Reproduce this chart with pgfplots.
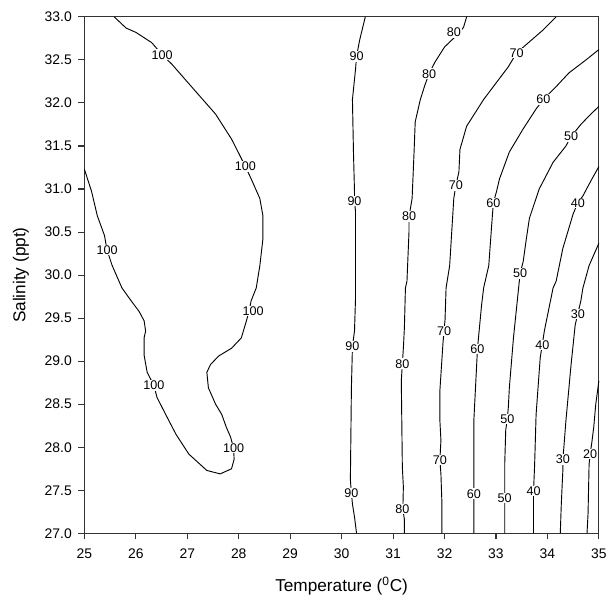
\documentclass[border=0pt]{standalone}
\usepackage{pgfplots}
\pgfplotsset{compat=1.18}
\usepackage{fontspec}
\setmainfont{Liberation Sans}

\tikzset{lab/.style={fill=white, inner sep=0.6pt, font=\fontsize{9.5}{11}\selectfont}}

\begin{document}
\begin{tikzpicture}
\begin{axis}[
    name=ax,
    scale only axis,
    width=388.5pt, height=390pt,
    xmin=25, xmax=35, ymin=27, ymax=33,
    xtick={25,26,...,35},
    ytick={27,27.5,...,33},
    tick pos=left,
    tick align=outside,
    major tick length=4.5pt,
    axis line style={black!80, line width=0.9pt},
    tick style={black!80, line width=0.8pt},
    /pgf/number format/assume math mode=true,
    x tick label style={font=\fontsize{10.5}{12}\selectfont, yshift=-4pt,
        /pgf/number format/fixed, /pgf/number format/precision=0},
    y tick label style={font=\fontsize{10.5}{12}\selectfont, xshift=-1.5pt,
        /pgf/number format/fixed, /pgf/number format/fixed zerofill, /pgf/number format/precision=1},
    xlabel={Temperature (\textsuperscript{0}C)},
    ylabel={Salinity (ppt)},
    every axis x label/.style={at={(axis description cs:0.5,-0.102)}, anchor=center, font=\fontsize{13}{15}\selectfont},
    every axis y label/.style={at={(axis description cs:-0.1236,0.5)}, anchor=center, rotate=90, font=\fontsize{13}{15}\selectfont},
    clip=false,
]
% contour 100
\addplot[black, line width=0.7pt] coordinates {
 (25.58,33.0) (25.81,32.87) (26.0,32.82) (26.31,32.70) (26.51,32.56) (26.70,32.45)
 (27.08,32.19) (27.55,31.87) (27.86,31.58) (28.03,31.38) (28.13,31.26) (28.24,31.12)
 (28.41,30.89) (28.47,30.69) (28.47,30.42) (28.41,30.11) (28.34,29.85) (28.24,29.70)
 (28.20,29.58) (28.15,29.47) (28.05,29.27) (27.86,29.15) (27.61,29.06) (27.45,28.96)
 (27.38,28.87) (27.41,28.69) (27.55,28.50) (27.67,28.38) (27.76,28.23) (27.84,28.12)
 (27.90,27.99) (27.91,27.86) (27.86,27.75) (27.64,27.69) (27.38,27.73) (27.03,27.92)
 (26.78,28.15) (26.58,28.38) (26.41,28.58) (26.35,28.72) (26.22,28.87) (26.16,29.07)
 (26.16,29.27) (26.19,29.35) (26.16,29.47) (26.06,29.58) (25.91,29.70) (25.73,29.85)
 (25.54,30.11) (25.44,30.29) (25.39,30.46) (25.25,30.69) (25.14,30.97) (25.0,31.23)
};
% contour 90
\addplot[black, line width=0.7pt] coordinates {
 (30.46,33.0) (30.35,32.73) (30.29,32.54) (30.27,32.39) (30.21,32.04) (30.23,31.43)
 (30.25,30.97) (30.25,30.86) (30.27,30.74) (30.27,29.73) (30.25,29.35) (30.21,29.17)
 (30.19,28.69) (30.17,27.62) (30.19,27.47) (30.21,27.34) (30.25,27.19) (30.29,27.0)
};
% contour 80
\addplot[black, line width=0.7pt] coordinates {
 (32.43,33.0) (32.37,32.88) (32.28,32.81) (32.0,32.65) (31.81,32.47) (31.70,32.34)
 (31.62,32.21) (31.53,32.04) (31.43,31.78) (31.41,31.46) (31.37,30.89) (31.31,30.68)
 (31.31,30.51) (31.27,29.93) (31.24,29.85) (31.22,29.39) (31.20,29.15) (31.18,28.97)
 (31.16,28.77) (31.18,27.77) (31.20,27.54) (31.19,27.28) (31.22,27.16) (31.22,27.0)
};
% contour 70
\addplot[black, line width=0.7pt] coordinates {
 (34.17,33.0) (33.92,32.85) (33.65,32.71) (33.40,32.58) (33.24,32.42) (32.76,32.04)
 (32.43,31.73) (32.30,31.46) (32.28,31.20) (32.22,31.04) (32.18,30.89) (32.10,30.11)
 (32.03,29.85) (32.01,29.48) (31.99,29.35) (31.97,29.21) (31.91,28.66) (31.91,28.31)
 (31.93,28.08) (31.91,27.85) (31.93,27.69) (31.95,27.34) (31.95,27.0)
};
% contour 60
\addplot[black, line width=0.7pt] coordinates {
 (35.0,32.62) (34.75,32.50) (34.42,32.35) (34.17,32.19) (33.92,32.04) (33.78,31.93)
 (33.53,31.70) (33.26,31.43) (33.07,31.12) (33.01,30.97) (32.95,30.84) (32.93,30.69)
 (32.86,30.11) (32.76,29.85) (32.72,29.65) (32.66,29.27) (32.64,29.14) (32.63,29.02)
 (32.57,28.31) (32.57,27.57) (32.57,27.46) (32.57,27.33) (32.57,27.0)
};
% contour 50
\addplot[black, line width=0.7pt] coordinates {
 (35.0,31.96) (34.81,31.85) (34.65,31.75) (34.46,31.61) (34.36,31.50) (34.11,31.31)
 (33.84,31.0) (33.65,30.66) (33.59,30.42) (33.53,30.16) (33.47,30.02) (33.44,29.85)
 (33.34,29.27) (33.26,28.69) (33.24,28.46) (33.22,28.33) (33.19,28.20) (33.17,27.80)
 (33.17,27.54) (33.17,27.41) (33.17,27.28) (33.17,27.0)
};
% contour 40
\addplot[black, line width=0.7pt] coordinates {
 (35.0,31.26) (34.85,31.10) (34.69,30.92) (34.59,30.84) (34.50,30.71) (34.30,30.31)
 (34.17,29.93) (34.11,29.85) (33.94,29.35) (33.90,29.19) (33.86,29.04) (33.78,28.38)
 (33.75,27.77) (33.73,27.49) (33.73,27.34) (33.73,27.0)
};
% contour 30
\addplot[black, line width=0.7pt] coordinates {
 (35.0,30.37) (34.81,30.11) (34.69,29.85) (34.65,29.70) (34.59,29.55) (34.54,29.42)
 (34.46,28.96) (34.36,28.31) (34.32,28.0) (34.30,27.86) (34.30,27.73) (34.27,27.34)
 (34.25,27.0)
};
% contour 20
\addplot[black, line width=0.7pt] coordinates {
 (35.0,28.77) (34.94,28.50) (34.90,28.23) (34.86,28.04) (34.83,27.92) (34.81,27.80)
 (34.79,27.23) (34.77,27.0)
};
% etichette delle curve
\node[lab] at (axis cs:26.51,32.56) {100};
\node[lab] at (axis cs:28.13,31.26) {100};
\node[lab] at (axis cs:25.44,30.29) {100};
\node[lab] at (axis cs:28.28,29.58) {100};
\node[lab] at (axis cs:26.35,28.72) {100};
\node[lab] at (axis cs:27.90,27.99) {100};
\node[lab] at (axis cs:30.29,32.54) {90};
\node[lab] at (axis cs:30.25,30.86) {90};
\node[lab] at (axis cs:30.21,29.17) {90};
\node[lab] at (axis cs:30.19,27.47) {90};
\node[lab] at (axis cs:32.18,32.82) {80};
\node[lab] at (axis cs:31.70,32.34) {80};
\node[lab] at (axis cs:31.31,30.68) {80};
\node[lab] at (axis cs:31.18,28.97) {80};
\node[lab] at (axis cs:31.18,27.28) {80};
\node[lab] at (axis cs:33.40,32.58) {70};
\node[lab] at (axis cs:32.22,31.04) {70};
\node[lab] at (axis cs:31.99,29.35) {70};
\node[lab] at (axis cs:31.91,27.85) {70};
\node[lab] at (axis cs:33.92,32.04) {60};
\node[lab] at (axis cs:32.95,30.84) {60};
\node[lab] at (axis cs:32.64,29.14) {60};
\node[lab] at (axis cs:32.57,27.46) {60};
\node[lab] at (axis cs:34.46,31.61) {50};
\node[lab] at (axis cs:33.47,30.02) {50};
\node[lab] at (axis cs:33.22,28.33) {50};
\node[lab] at (axis cs:33.17,27.41) {50};
\node[lab] at (axis cs:34.59,30.84) {40};
\node[lab] at (axis cs:33.90,29.19) {40};
\node[lab] at (axis cs:33.73,27.49) {40};
\node[lab] at (axis cs:34.59,29.55) {30};
\node[lab] at (axis cs:34.30,27.86) {30};
\node[lab] at (axis cs:34.83,27.92) {20};
\end{axis}
% tacche esterne (anche fuori dall'asse, per sicurezza)
\foreach \i in {0,...,10}
  \draw[black!80, line width=0.8pt] ([xshift=\i*38.85pt]ax.south west) -- ++(0,-4.5pt);
\foreach \j in {0,...,12}
  \draw[black!80, line width=0.8pt] ([yshift=\j*32.5pt]ax.south west) -- ++(-4.5pt,0);
\path (ax.south west) ++(-63.75pt,-47.25pt) rectangle ([shift={(6pt,12.75pt)}]ax.north east);
\end{tikzpicture}
\end{document}
